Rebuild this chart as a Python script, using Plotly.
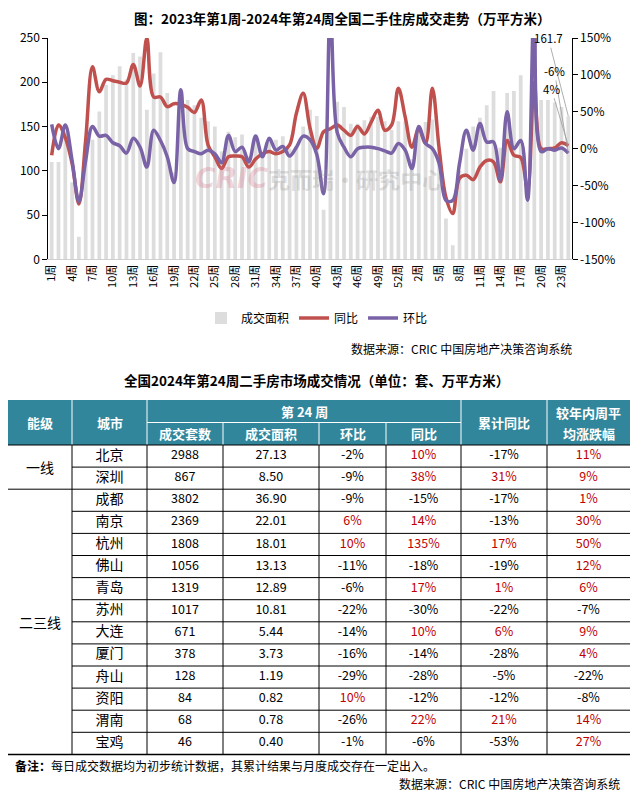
import plotly.graph_objects as go

# The page body keeps the browser's default 8px margin, so the figure is drawn
# 8px smaller than the window and every position below is a window pixel minus 8.
OFF = 8
W, H = 641 - OFF, 794 - OFF
FONT = "Noto Sans CJK SC"

# ---------------- chart data ----------------
weeks_2023 = list(range(1, 54))
weeks_2024 = list(range(1, 25))
week_labels = [f"{w}周" for w in weeks_2023 + weeks_2024]

# 成交面积 (万平方米)
area = [110, 110, 145, 87, 25.6, 130, 135, 167, 197, 208,
        218, 203, 233, 229, 169, 210, 234, 188, 98, 180,
        180, 174, 160, 156, 150, 122, 144, 138, 141, 116,
        135, 121, 138, 135, 139, 125, 128, 150, 169, 162,
        56, 150, 178, 172, 153, 153, 157, 161, 161, 156,
        146, 156, 156, 113, 142, 155, 158, 126, 46, 16,
        100, 125, 150, 160, 174, 190, 126, 188, 190, 208,
        65, 188, 180, 180, 177, 172, 161.7]
# 同比 (%)
yoy = [-9, 32, 15, -20, -75, 12, 111, 77, 94, 92,
       90, 89, 114, 85, 150, 70, 70, 57, 61, 60,
       56, 49, 66, 5, -11, -27, -11, -10, -11, -25,
       -14, -7, -4, -7, -4, 5, 48, 75, 28, 0,
       23, 27, 32, 25, 18, 30, 20, 36, 52, 25,
       32, 82, 43, 2, 27, 7, 82, 0, -66, -88,
       -40, -36, -42, -25, -16, -18, -45, 11, -9, -12,
       -55, 90, 0, 0, 1, 8, 4]
# 环比 (%)
wow = [33, 0, 32, -16, -72, -16, 30, 17, 18, 8,
       4, -6, 14, 2, -25, 25, 11, -11, -46, 80,
       0, -4, -7, -2, -7, -19, 18, -4, 2, -18,
       17, -11, 14, -2, 3, -10, 2, 17, 12, -8,
       -61, 190, 22, 2, -11, 0, 2, 2, 0, -3,
       -6, 7, -2, -27, 30, 7, 0, -20, -70, -70,
       -20, 25, -2, 34, 9, 9, -43, 50, 0, 11,
       -70, 200, -4, 0, -2, 1, -6]

left_ticks = [0, 50, 100, 150, 200, 250]
right_ticks = [-150, -100, -50, 0, 50, 100, 150]

# ---------------- table data ----------------
tiers = ["一线", "二三线"]
tier_sizes = [2, 12]
cities = ["北京", "深圳", "成都", "南京", "杭州", "佛山", "青岛", "苏州",
          "大连", "厦门", "舟山", "资阳", "渭南", "宝鸡"]
units = [2988, 867, 3802, 2369, 1808, 1056, 1319, 1017, 671, 378, 128, 84, 68, 46]
city_area = [27.13, 8.50, 36.90, 22.01, 18.01, 13.13, 12.89, 10.81, 5.44, 3.73,
             1.19, 0.82, 0.78, 0.40]
mom = [-2, -9, -9, 6, 10, -11, -6, -22, -14, -16, -29, 10, -26, -1]
yoy_city = [10, 38, -15, 14, 135, -18, 17, -30, 10, -14, -28, -12, 22, -6]
cum_yoy = [-17, 31, -17, -13, 17, -19, 1, -22, 6, -28, -5, -12, 21, -53]
avg_chg = [11, 9, 1, 30, 50, 12, 6, -7, 9, 4, -22, -8, 14, 27]

head_top = ["能级", "城市", "第 24 周", "累计同比"]
head_last = ["较年内周平", "均涨跌幅"]
head_sub = ["成交套数", "成交面积", "环比", "同比"]

title_text = "图：2023年第1周-2024年第24周全国二手住房成交走势（万平方米）"
table_title = "全国2024年第24周二手房市场成交情况（单位：套、万平方米）"
source_text = "数据来源：CRIC 中国房地产决策咨询系统"
note_text = "<b>备注：</b>每日成交数据均为初步统计数据，其累计结果与月度成交存在一定出入。"

# ---------------- layout constants (window pixels) ----------------
PLOT_L, PLOT_R, PLOT_T, PLOT_B = 48.3, 571.7, 38, 259.3
edges = [8, 72, 147, 223, 319, 386, 461, 547, 630]
HEAD_T, HEAD_M, HEAD_B = 400, 422.5, 445
ROW_H = 22.1
TEAL = "#31869b"
RED_TXT = "#c00000"


def xp(x):
    return (x - OFF) / W


def yp(y):
    return 1 - (y - OFF) / H


fig = go.Figure()
xi = list(range(len(area)))
fig.add_trace(go.Bar(x=xi, y=area, name="成交面积", yaxis="y", xaxis="x",
                     marker=dict(color="#dddddd", line=dict(width=0)),
                     hoverinfo="skip"))
fig.add_trace(go.Scatter(x=xi, y=yoy, name="同比", mode="lines", yaxis="y2", xaxis="x",
                         line=dict(color="#c0504d", width=3.5, shape="spline", smoothing=1),
                         hoverinfo="skip"))
fig.add_trace(go.Scatter(x=xi, y=wow, name="环比", mode="lines", yaxis="y2", xaxis="x",
                         line=dict(color="#7a62a6", width=3.5, shape="spline", smoothing=1),
                         hoverinfo="skip"))

# ---------------- table text via axis x3/y3 ----------------
n = len(cities)
row_c = [HEAD_B + ROW_H * (r + 0.5) for r in range(n)]
centers = [(edges[i] + edges[i + 1]) / 2 for i in range(len(edges) - 1)]


def pct(v):
    return f"{v}%"


def col_color(vals):
    return [RED_TXT if v > 0 else "#000000" for v in vals]


columns = [
    (cities, ["#000"] * n, 14),
    ([str(v) for v in units], ["#000"] * n, 12.5),
    ([f"{v:.2f}" for v in city_area], ["#000"] * n, 12.5),
    ([pct(v) for v in mom], col_color(mom), 12.5),
    ([pct(v) for v in yoy_city], col_color(yoy_city), 12.5),
    ([pct(v) for v in cum_yoy], col_color(cum_yoy), 12.5),
    ([pct(v) for v in avg_chg], col_color(avg_chg), 12.5),
]
for ci, (txt, cols, fs) in enumerate(columns):
    fig.add_trace(go.Scatter(x=[centers[ci + 1]] * n, y=row_c, mode="text", text=txt,
                             textfont=dict(family=FONT, size=fs, color=cols),
                             xaxis="x3", yaxis="y3", showlegend=False,
                             hoverinfo="skip", cliponaxis=False))

shapes = []
ann = []

# header background
shapes.append(dict(type="rect", xref="x3", yref="y3", x0=edges[0], x1=edges[-1],
                   y0=HEAD_T, y1=HEAD_B, fillcolor=TEAL, line=dict(width=0), layer="below"))
# white separators in header
for e in [edges[1], edges[2], edges[6], edges[7]]:
    shapes.append(dict(type="line", xref="x3", yref="y3", x0=e, x1=e, y0=HEAD_T, y1=HEAD_B,
                       line=dict(color="white", width=1)))
for e in [edges[3], edges[4], edges[5]]:
    shapes.append(dict(type="line", xref="x3", yref="y3", x0=e, x1=e, y0=HEAD_M, y1=HEAD_B,
                       line=dict(color="white", width=1)))
shapes.append(dict(type="line", xref="x3", yref="y3", x0=edges[2], x1=edges[6], y0=HEAD_M, y1=HEAD_M,
                   line=dict(color="white", width=1)))

# data grid
bottom = HEAD_B + ROW_H * n
shapes.append(dict(type="line", xref="x3", yref="y3", x0=edges[0], x1=edges[-1], y0=HEAD_B, y1=HEAD_B,
                   line=dict(color="black", width=1.2)))
group_ends = []
acc = 0
for s in tier_sizes:
    acc += s
    group_ends.append(acc)
for k in range(1, n + 1):
    yk = HEAD_B + ROW_H * k
    full = k in group_ends
    shapes.append(dict(type="line", xref="x3", yref="y3",
                       x0=edges[0] if full else edges[1], x1=edges[-1], y0=yk, y1=yk,
                       line=dict(color="black", width=1.5 if k == n else 1)))
for e in edges[1:-1]:
    shapes.append(dict(type="line", xref="x3", yref="y3", x0=e, x1=e, y0=HEAD_B, y1=bottom,
                       line=dict(color="black", width=1)))

# header text
hf = dict(family=FONT, size=13, color="white")
ann.append(dict(x=centers[0], y=(HEAD_T + HEAD_B) / 2, text="<b>" + head_top[0] + "</b>", font=hf))
ann.append(dict(x=centers[1], y=(HEAD_T + HEAD_B) / 2, text="<b>" + head_top[1] + "</b>", font=hf))
ann.append(dict(x=(edges[2] + edges[6]) / 2, y=(HEAD_T + HEAD_M) / 2, text="<b>" + head_top[2] + "</b>", font=hf))
ann.append(dict(x=centers[6], y=(HEAD_T + HEAD_B) / 2, text="<b>" + head_top[3] + "</b>", font=hf))
ann.append(dict(x=centers[7], y=(HEAD_T + HEAD_M) / 2 + 1, text="<b>" + head_last[0] + "</b>", font=hf))
ann.append(dict(x=centers[7], y=(HEAD_M + HEAD_B) / 2, text="<b>" + head_last[1] + "</b>", font=hf))
for j, t in enumerate(head_sub):
    ann.append(dict(x=centers[2 + j], y=(HEAD_M + HEAD_B) / 2, text="<b>" + t + "</b>", font=hf))
# tier labels
start = 0
for t, s in zip(tiers, tier_sizes):
    ann.append(dict(x=centers[0], y=HEAD_B + ROW_H * (start + s / 2), text=t,
                    font=dict(family=FONT, size=14, color="black")))
    start += s
for a in ann:
    a.update(xref="x3", yref="y3", showarrow=False, xanchor="center", yanchor="middle")


def paper_text(x, y, text, size, xanchor="center", color="black", family=FONT):
    return dict(xref="paper", yref="paper", x=xp(x), y=yp(y), text=text, showarrow=False,
                xanchor=xanchor, yanchor="middle", font=dict(family=family, size=size, color=color))


ann.append(paper_text(342, 18, "<b>" + title_text + "</b>", 13.5))
ann.append(paper_text(232, 178, "<b><i>CRIC</i></b>", 28, color="rgba(215,110,135,0.28)",
                      family="DejaVu Sans"))
ann.append(paper_text(356, 178, "<b>克而瑞·研究中心</b>", 22, color="rgba(150,150,150,0.28)"))
ann.append(paper_text(574, 348, source_text, 12, xanchor="right"))
ann.append(paper_text(316, 380, "<b>" + table_title + "</b>", 13.5))
ann.append(paper_text(13, 765, note_text, 12, xanchor="left"))
ann.append(paper_text(622, 783, source_text, 12, xanchor="right"))

# end-point data labels with leader lines
lbl_font = dict(family=FONT, size=11.5, color="black")
ann.append(dict(x=xi[-1], y=area[-1], xref="x", yref="y", text=f"{area[-1]}", showarrow=True,
                arrowhead=0, arrowwidth=0.8, arrowcolor="#9a9a9a", ax=-20, ay=-78, font=lbl_font))
ann.append(dict(x=xi[-1], y=wow[-1], xref="x", yref="y2", text=f"{wow[-1]}%", showarrow=True,
                arrowhead=0, arrowwidth=0.8, arrowcolor="#9a9a9a", ax=-14, ay=-82, font=lbl_font))
ann.append(dict(x=xi[-1], y=yoy[-1], xref="x", yref="y2", text=f"{yoy[-1]}%", showarrow=True,
                arrowhead=0, arrowwidth=0.8, arrowcolor="#9a9a9a", ax=-17, ay=-57, font=lbl_font))

fig.update_layout(
    width=W, height=H, autosize=False,
    margin=dict(l=0, r=0, t=0, b=0, pad=0),
    paper_bgcolor="white", plot_bgcolor="white",
    font=dict(family=FONT, size=12, color="black"),
    bargap=0.45,
    showlegend=True,
    legend=dict(orientation="h", x=xp(317), xanchor="center", y=yp(318), yanchor="middle",
                font=dict(family=FONT, size=12), itemwidth=30, bgcolor="rgba(0,0,0,0)",
                traceorder="normal"),
    xaxis=dict(domain=[xp(PLOT_L), xp(PLOT_R)], range=[-0.5, len(area) - 0.5],
               tickvals=xi[::3], ticktext=week_labels[::3], tickangle=-90,
               tickfont=dict(family=FONT, size=11), showline=True, linecolor="#d0d0d0",
               linewidth=1, ticks="", showgrid=False, zeroline=False, anchor="y",
               automargin=False, fixedrange=True),
    yaxis=dict(domain=[yp(PLOT_B), yp(PLOT_T)], range=[0, 250], tickvals=left_ticks,
               ticktext=[str(v) for v in left_ticks], showline=True, linecolor="black", linewidth=1,
               ticks="outside", ticklen=5, tickcolor="black", showgrid=False, zeroline=False,
               tickfont=dict(family=FONT, size=12), anchor="x", automargin=False),
    yaxis2=dict(overlaying="y", side="right", range=[-150, 150], tickvals=right_ticks,
                ticktext=[f"{v}%" for v in right_ticks], showline=True, linecolor="black",
                linewidth=1, ticks="outside", ticklen=5, tickcolor="black", showgrid=False,
                zeroline=False, tickfont=dict(family=FONT, size=12), anchor="x", automargin=False),
    xaxis3=dict(domain=[0, 1], range=[OFF, OFF + W], visible=False, anchor="y3", fixedrange=True,
                automargin=False),
    yaxis3=dict(domain=[0, yp(390)], range=[OFF + H, 390], visible=False, anchor="x3",
                fixedrange=True, automargin=False),
    shapes=shapes,
    annotations=ann,
)

fig.write_html("out.html", config={"displayModeBar": False})
